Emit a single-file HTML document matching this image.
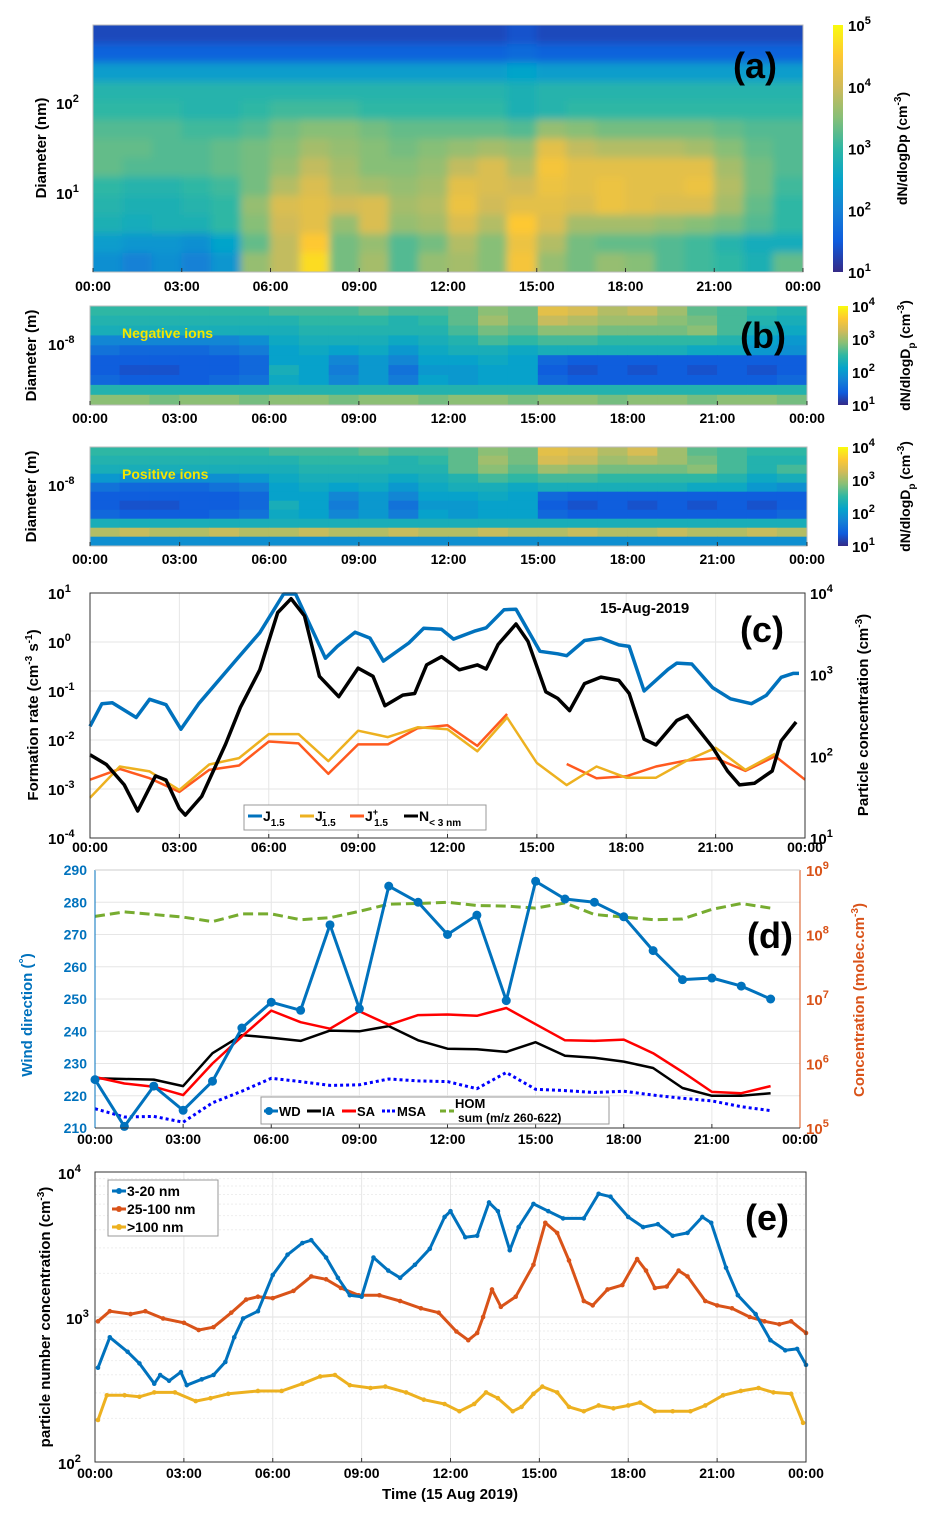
<!DOCTYPE html>
<html><head><meta charset="utf-8"><style>
html,body{margin:0;padding:0;background:#fff;}
svg{display:block;font-family:"Liberation Sans",Arial,sans-serif;font-weight:bold;}
</style></head><body>
<svg id="fig" width="945" height="1520" viewBox="0 0 945 1520">
<defs>
<linearGradient id="parula" x1="0" y1="1" x2="0" y2="0">
<stop offset="0" stop-color="#352a87"/><stop offset="0.125" stop-color="#0f5cdd"/><stop offset="0.25" stop-color="#1481d6"/><stop offset="0.375" stop-color="#06a4ca"/><stop offset="0.5" stop-color="#2eb7a4"/><stop offset="0.625" stop-color="#87bf77"/><stop offset="0.75" stop-color="#d1bb59"/><stop offset="0.875" stop-color="#fec832"/><stop offset="1" stop-color="#f9fb0e"/>
</linearGradient>
<filter id="blur" x="-0.1" y="-0.1" width="1.2" height="1.2"><feGaussianBlur stdDeviation="4"/></filter>
<clipPath id="clipA"><rect x="93" y="25" width="710" height="247"/></clipPath>
</defs>
<g id="root"></g>
</svg>
<script>
// ---------- DATA ----------
const hours = [0,1,2,3,4,5,6,7,8,9,10,11,12,13,14,15,16,17,18,19,20,21,22,23];
const xTickLabels = ["00:00","03:00","06:00","09:00","12:00","15:00","18:00","21:00","00:00"];
// panel a: log10 dN/dlogDp, rows top(large Dp) -> bottom(small Dp), 24 hourly cols
const aRow0 = [1.3,1.3,1.3,1.3,1.3,1.3,1.3,1.3,1.3,1.3,1.3,1.3,1.3,1.3,1.4,1.3,1.3,1.3,1.3,1.3,1.3,1.3,1.3,1.3];
const aRow1 = [1.6,1.6,1.6,1.6,1.6,1.6,1.6,1.6,1.6,1.6,1.6,1.6,1.6,1.6,1.7,1.6,1.6,1.6,1.6,1.6,1.6,1.6,1.6,1.6];
const aRow2 = [2.4,2.4,2.4,2.4,2.4,2.4,2.4,2.4,2.4,2.4,2.4,2.4,2.4,2.4,2.5,2.4,2.4,2.4,2.4,2.4,2.4,2.4,2.4,2.4];
const aRow3 = [2.9,2.9,2.9,2.9,2.9,2.9,2.9,2.9,2.9,2.9,2.9,2.9,2.9,2.9,2.8,2.9,2.9,2.9,2.9,2.9,2.9,2.9,2.9,2.9];
const aRow4 = [3.0,3.0,3.0,2.9,2.9,3.0,3.1,3.1,3.1,3.0,3.0,3.0,3.0,3.0,2.8,2.9,3.0,3.0,3.0,3.0,3.0,3.0,3.0,3.0];
const aRow5 = [3.2,3.2,3.2,3.1,3.1,3.2,3.4,3.5,3.5,3.4,3.3,3.3,3.3,3.3,3.2,3.6,3.5,3.4,3.4,3.4,3.4,3.3,3.2,3.2];
const aRow6 = [3.3,3.3,3.2,3.2,3.3,3.4,3.5,3.7,3.6,3.5,3.4,3.5,3.6,3.7,3.6,4.2,3.9,3.8,3.8,3.8,3.7,3.5,3.3,3.2];
const aRow7 = [3.3,3.2,3.2,3.2,3.3,3.4,3.6,3.9,3.7,3.5,3.5,3.6,3.9,4.1,3.8,4.4,4.2,4.2,4.2,4.2,4.2,3.7,3.4,3.2];
const aRow8 = [3.0,2.9,2.9,3.0,3.1,3.4,3.8,4.1,3.8,3.7,3.6,3.7,4.2,4.1,4.0,4.3,4.2,4.3,4.2,4.2,4.3,3.8,3.4,3.1];
const aRow9 = [2.9,2.8,2.8,2.9,3.0,3.6,4.1,4.2,4.0,4.1,3.7,3.8,4.3,4.0,4.2,4.2,4.1,4.3,4.2,4.1,4.1,3.7,3.3,3.0];
const aRow10 = [2.8,2.7,2.8,2.8,3.0,3.5,4.0,4.2,3.6,4.1,3.6,3.7,4.1,3.8,4.5,4.1,3.7,3.7,3.7,3.6,3.5,3.4,3.2,3.0];
const aRow11 = [2.4,2.3,2.3,2.2,2.5,3.3,3.9,4.5,3.4,3.6,3.2,3.4,3.8,3.5,4.3,3.8,3.4,3.3,3.3,3.2,3.1,2.9,2.7,2.7];
const aRow12 = [2.2,2.0,2.2,2.0,2.3,3.6,3.9,4.7,3.4,3.7,3.2,3.6,3.7,3.5,4.4,3.6,3.4,3.6,3.5,3.2,3.1,3.0,2.8,3.3];
// panel b negative ions (log10), rows top->bottom
const nRow0 = [2.5,2.5,2.5,2.5,2.5,2.5,2.6,2.6,2.6,2.7,2.6,2.6,2.7,2.9,2.8,3.4,3.3,3.1,3.2,3.0,2.7,2.6,2.5,2.4];
const nRow1 = [2.4,2.4,2.4,2.4,2.4,2.4,2.4,2.5,2.5,2.5,2.4,2.5,2.7,3.0,2.8,3.2,3.1,3.0,3.0,2.9,2.8,2.6,2.4,2.3];
const nRow2 = [2.3,2.3,2.3,2.3,2.3,2.3,2.3,2.4,2.4,2.4,2.4,2.4,2.6,2.8,2.7,2.9,2.9,2.8,2.8,2.8,2.9,2.6,2.3,2.2];
const nRow3 = [1.8,1.8,1.8,1.8,1.8,1.9,2.2,2.3,2.3,2.3,2.2,2.3,2.4,2.6,2.5,2.6,2.6,2.5,2.5,2.5,2.5,2.4,2.1,2.0];
const nRow4 = [1.6,1.5,1.5,1.5,1.6,1.7,2.1,2.2,2.1,2.2,2.0,2.2,2.3,2.3,2.2,2.3,2.3,2.3,2.3,2.3,2.2,2.2,2.0,1.9];
const nRow5 = [1.4,1.4,1.4,1.4,1.4,1.5,2.1,2.1,1.8,2.0,1.8,2.1,2.1,2.2,2.1,1.5,1.4,1.4,1.4,1.4,1.4,1.4,1.4,1.4];
const nRow6 = [1.4,1.3,1.3,1.4,1.4,1.5,2.3,2.1,1.7,2.0,1.6,2.0,2.0,2.1,2.1,1.4,1.3,1.4,1.3,1.4,1.3,1.4,1.3,1.4];
const nRow7 = [1.5,1.4,1.4,1.4,1.5,1.6,2.2,2.1,1.8,2.0,1.7,2.1,2.0,2.1,2.1,1.5,1.4,1.4,1.4,1.4,1.4,1.4,1.4,1.5];
const nRow8 = [2.4,2.4,2.4,2.4,2.4,2.4,2.4,2.4,2.4,2.4,2.4,2.4,2.4,2.4,2.4,2.4,2.4,2.4,2.4,2.4,2.4,2.4,2.4,2.4];
const nRow9 = [2.9,2.9,2.8,2.9,2.9,2.8,2.9,2.9,2.8,2.9,2.9,2.8,2.9,2.9,2.8,2.9,2.9,2.8,2.9,2.9,2.8,2.9,2.9,2.8];
// positive ions
const pRow0 = [2.5,2.5,2.5,2.5,2.5,2.5,2.6,2.6,2.6,2.7,2.6,2.6,2.7,2.9,2.8,3.4,3.3,3.1,3.3,3.0,2.7,2.6,2.5,2.5];
const pRow1 = [2.4,2.4,2.4,2.4,2.4,2.4,2.4,2.5,2.5,2.5,2.4,2.5,2.7,3.0,2.8,3.3,3.2,3.0,3.1,3.0,2.8,2.6,2.4,2.4];
const pRow2 = [2.3,2.3,2.3,2.3,2.3,2.3,2.3,2.4,2.4,2.4,2.4,2.4,2.7,2.9,2.7,3.0,2.9,2.8,2.8,2.8,2.9,2.6,2.4,2.6];
const pRow3 = [2.0,1.9,1.9,1.9,1.9,2.0,2.2,2.3,2.3,2.3,2.2,2.3,2.4,2.6,2.5,2.6,2.6,2.5,2.5,2.5,2.5,2.4,2.2,2.3];
const pRow4 = [1.6,1.5,1.5,1.5,1.6,1.7,2.1,2.2,2.1,2.2,2.0,2.2,2.3,2.3,2.2,2.3,2.3,2.3,2.3,2.3,2.2,2.2,2.0,1.9];
const pRow5 = [1.4,1.4,1.4,1.4,1.4,1.5,2.1,2.1,1.8,2.0,1.8,2.1,2.1,2.2,2.1,1.5,1.4,1.4,1.4,1.4,1.4,1.4,1.4,1.4];
const pRow6 = [1.4,1.3,1.3,1.4,1.4,1.5,2.3,2.1,1.7,2.0,1.6,2.0,2.0,2.1,2.1,1.4,1.3,1.4,1.3,1.4,1.3,1.4,1.3,1.4];
const pRow7 = [1.5,1.4,1.4,1.4,1.5,1.6,2.2,2.1,1.8,2.0,1.7,2.1,2.0,2.1,2.1,1.5,1.4,1.4,1.4,1.4,1.4,1.4,1.4,1.5];
const pRow8 = [2.3,2.3,2.3,2.3,2.3,2.3,2.3,2.3,2.3,2.3,2.3,2.3,2.3,2.3,2.3,2.3,2.3,2.3,2.3,2.3,2.3,2.3,2.3,2.3];
const pRow9 = [3.1,3.2,3.1,3.1,3.2,3.1,3.1,3.2,3.1,3.1,3.2,3.1,3.1,3.2,3.1,3.1,3.2,3.1,3.1,3.2,3.1,3.1,3.2,3.1];
const pRow10 = [1.9,1.9,1.9,1.9,1.9,1.9,1.9,1.9,1.9,1.9,1.9,1.9,1.9,1.9,1.9,1.9,1.9,1.9,1.9,1.9,1.9,1.9,1.9,1.9];
// panel c
const jTotHours = [0,0.4,0.75,1.55,2.0,2.55,3.05,3.65,4.9,5.7,6.5,6.9,7.9,8.3,8.9,9.4,9.85,10.7,11.2,11.8,12.2,12.9,13.3,13.9,14.3,15.1,15.7,16.0,16.6,17.15,17.75,18.1,18.6,19.4,19.7,20.2,20.9,21.5,22.2,22.7,23.2,23.6,23.8];
const jTotLog = [-1.72,-1.26,-1.24,-1.54,-1.17,-1.28,-1.78,-1.26,-0.37,0.19,0.98,0.98,-0.33,-0.09,0.2,0.08,-0.39,-0.02,0.28,0.26,0.06,0.22,0.29,0.66,0.67,-0.19,-0.24,-0.28,0.03,0.08,-0.06,-0.09,-1.0,-0.56,-0.43,-0.45,-0.93,-1.16,-1.26,-1.09,-0.72,-0.64,-0.64];
const nSubHours = [0,0.55,1.15,1.6,2.2,2.55,3.0,3.2,3.75,4.55,5.05,5.7,6.3,6.75,7.2,7.7,8.35,9.0,9.5,9.9,10.5,10.9,11.3,11.8,12.4,13.0,13.3,13.7,14.3,14.7,15.3,15.7,16.1,16.6,17.15,17.75,18.1,18.6,19.0,19.7,20.05,20.9,21.4,21.8,22.3,22.9,23.2,23.7];
const nSubLog = [2.02,1.9,1.65,1.33,1.76,1.71,1.36,1.28,1.51,2.15,2.6,3.06,3.76,3.93,3.72,2.98,2.73,3.08,2.98,2.62,2.75,2.77,3.12,3.22,3.06,3.12,3.07,3.37,3.62,3.41,2.79,2.71,2.56,2.89,2.97,2.93,2.77,2.21,2.14,2.44,2.5,2.11,1.82,1.65,1.67,1.82,2.19,2.42];
const jNegLog = [-3.18,-2.54,-2.64,-3.02,-2.5,-2.37,-1.88,-1.88,-2.43,-1.81,-1.94,-1.74,-1.78,-2.23,-1.54,-2.47,-2.92,-2.54,-2.77,-2.77,-2.43,-2.16,-2.61,-2.28];
const jPosHours = [0,1,2,3,4,5,6,7,8,9,10,11,12,13,14,16,17,18,19,20,21,22,23,24];
const jPosLog = [-2.81,-2.59,-2.78,-3.06,-2.61,-2.52,-2.03,-2.07,-2.69,-2.09,-2.09,-1.76,-1.7,-2.12,-1.47,-2.49,-2.78,-2.74,-2.54,-2.42,-2.37,-2.63,-2.33,-2.81];
// panel d
const windDir = [225,210.5,223,215.5,224.5,241,249,246.5,273,247,285,280,270,276,249.5,286.5,281,280,275.5,265,256,256.5,254,250];
const iaLog = [5.77,5.76,5.75,5.65,6.16,6.44,6.4,6.35,6.51,6.5,6.58,6.36,6.23,6.22,6.18,6.33,6.12,6.09,6.03,5.93,5.62,5.5,5.5,5.54];
const saLog = [5.79,5.69,5.64,5.51,6.0,6.42,6.82,6.64,6.54,6.81,6.6,6.75,6.76,6.74,6.86,6.61,6.36,6.35,6.37,6.16,5.87,5.56,5.54,5.65];
const msaLog = [5.3,5.17,5.18,5.09,5.39,5.57,5.77,5.72,5.66,5.67,5.76,5.73,5.72,5.61,5.86,5.6,5.58,5.55,5.57,5.51,5.46,5.42,5.33,5.27];
const homLog = [8.28,8.35,8.31,8.27,8.2,8.32,8.32,8.23,8.26,8.36,8.47,8.48,8.5,8.45,8.44,8.41,8.49,8.31,8.27,8.23,8.24,8.39,8.48,8.41];
const wdTicks = [210,220,230,240,250,260,270,280,290];
// panel e
const smallHours = [0.1,0.5,1.1,1.5,2.0,2.2,2.5,2.9,3.1,3.6,4.0,4.4,4.7,5.0,5.5,6.0,6.5,7.0,7.3,7.8,8.2,8.6,9.0,9.4,9.9,10.3,10.8,11.3,11.8,12.0,12.5,12.9,13.3,13.6,14.0,14.3,14.8,15.3,15.8,16.5,17.0,17.4,18.0,18.5,19.0,19.5,20.0,20.5,20.8,21.3,21.7,22.3,22.8,23.3,23.7,24];
const smallLog = [2.65,2.86,2.76,2.68,2.54,2.6,2.56,2.62,2.53,2.57,2.6,2.69,2.86,2.99,3.04,3.29,3.43,3.51,3.53,3.41,3.27,3.15,3.14,3.41,3.32,3.27,3.36,3.47,3.69,3.73,3.55,3.56,3.79,3.73,3.46,3.62,3.78,3.73,3.68,3.68,3.85,3.83,3.69,3.62,3.64,3.56,3.58,3.69,3.65,3.34,3.15,3.02,2.84,2.77,2.78,2.67];
const midHours = [0.1,0.5,1.2,1.7,2.3,3.0,3.5,4.0,4.6,5.1,5.5,6.0,6.7,7.3,7.8,8.3,8.9,9.6,10.3,11.0,11.6,12.2,12.6,12.9,13.1,13.4,13.7,14.2,14.8,15.2,15.6,16.0,16.5,16.8,17.3,17.8,18.3,18.6,18.9,19.3,19.7,20.0,20.6,21.0,21.5,22.1,22.6,23.1,23.5,24];
const midLog = [2.97,3.04,3.02,3.04,2.99,2.96,2.91,2.93,3.03,3.12,3.14,3.13,3.18,3.28,3.26,3.2,3.15,3.15,3.11,3.06,3.03,2.9,2.84,2.89,3.0,3.19,3.07,3.14,3.36,3.65,3.58,3.39,3.11,3.08,3.19,3.22,3.4,3.32,3.2,3.21,3.32,3.28,3.11,3.08,3.06,3.0,2.97,2.95,2.97,2.89];
const bigHours = [0.1,0.4,1.0,1.5,2.0,2.7,3.4,3.9,4.5,5.5,6.3,7.0,7.6,8.1,8.6,9.3,9.8,10.5,11.1,11.8,12.3,12.8,13.2,13.6,14.1,14.4,14.8,15.1,15.6,16.0,16.5,17.0,17.5,18.0,18.4,18.9,19.5,20.1,20.6,21.2,21.8,22.4,22.9,23.5,23.9];
const bigLog = [2.29,2.46,2.46,2.45,2.48,2.48,2.42,2.44,2.47,2.49,2.49,2.54,2.59,2.6,2.53,2.51,2.52,2.48,2.43,2.4,2.35,2.4,2.48,2.44,2.35,2.38,2.47,2.52,2.48,2.38,2.35,2.39,2.37,2.39,2.41,2.35,2.35,2.35,2.39,2.46,2.49,2.51,2.48,2.47,2.27];

// ---------- HELPERS ----------
const NS="http://www.w3.org/2000/svg";
const root=document.getElementById('root');
function mk(tag,attrs,parent){const e=document.createElementNS(NS,tag);for(const k in attrs)e.setAttribute(k,attrs[k]);(parent||root).appendChild(e);return e;}
const stops=[[53,42,135],[15,92,221],[20,129,214],[6,164,202],[46,183,164],[135,191,119],[209,187,89],[254,200,50],[249,251,14]];
function parula(t){t=Math.max(0,Math.min(1,t));const p=t*8,i=Math.min(7,Math.floor(p)),f=p-i;const a=stops[i],b=stops[i+1];return `rgb(${a.map((v,k)=>Math.round(v+(b[k]-v)*f)).join(',')})`;}
function xScale(x0,x1){return h=>x0+(x1-x0)*h/24;}
function linScale(v0,v1,y0,y1){return v=>y0+(y1-y0)*(v-v0)/(v1-v0);}
function txt(x,y,s,opts,parent){const t=mk('text',Object.assign({x:x,y:y,'font-size':14},opts||{}),parent);t.textContent=s;return t;}
function pow10(x,y,exp,opts,parent){const t=mk('text',Object.assign({x:x,y:y,'font-size':15},opts||{}),parent);const a=mk('tspan',{},t);a.textContent='10';const b=mk('tspan',{dy:-7,'font-size':11},t);b.textContent=String(exp);return t;}
function xTicks(g,x0,x1,yb,ylab,grid,yt){const sx=xScale(x0,x1);xTickLabels.forEach((l,i)=>{const x=sx(i*3);if(grid)mk('line',{x1:x,y1:yt,x2:x,y2:yb,stroke:'#e6e6e6','stroke-width':1},g);mk('line',{x1:x,y1:yb,x2:x,y2:yb-4,stroke:'#333'},g);const t=txt(x,ylab,l,{'text-anchor':'middle','font-size':14},g);});}
function heat(g,rows,x0,x1,y0,y1,vmin,vmax,pad){pad=pad||0;const rh=(y1-y0)/rows.length;const cw=(x1-x0)/24;const nr=rows.length;rows.forEach((r,ri)=>r.forEach((v,ci)=>{let x=x0+ci*cw-0.3,w=cw+0.6,y=y0+ri*rh-0.3,h=rh+0.6;if(ci===0){x-=pad;w+=pad;}if(ci===23)w+=pad;if(ri===0){y-=pad;h+=pad;}if(ri===nr-1)h+=pad;const c=mk('rect',{x:x,y:y,width:w,height:h,fill:parula((v-vmin)/(vmax-vmin))},g);}));}
function path(g,xs,ys,sx,sy,style){let d='';xs.forEach((h,i)=>{if(ys[i]==null)return;d+=(d?'L':'M')+sx(h).toFixed(1)+','+sy(ys[i]).toFixed(1);});return mk('path',Object.assign({d:d,fill:'none','stroke-linejoin':'round'},style),g);}
function colorbar(g,x,y0,w,y1,emin,emax,lx,title,tx,sub){mk('rect',{x:x,y:y0,width:w,height:y1-y0,fill:'url(#parula)'},g);const sy=linScale(emin,emax,y1,y0);for(let e=emin;e<=emax;e++){const t=pow10(lx,sy(e)+6,e,{},g);}
 const t=mk('text',{x:0,y:0,'font-size':14,'text-anchor':'middle',transform:`translate(${tx},${(y0+y1)/2}) rotate(-90)`},g);const a=mk('tspan',{},t);a.textContent=sub?'dN/dlogD':title;if(sub){const s=mk('tspan',{dy:5,'font-size':10},t);s.textContent='p';const s2=mk('tspan',{dy:-5},t);s2.textContent=' (cm';}else{const s2=mk('tspan',{},t);s2.textContent=' (cm';}const sp=mk('tspan',{dy:-6,'font-size':10},t);sp.textContent='-3';const cl=mk('tspan',{dy:6},t);cl.textContent=')';}
function rotLabel(g,x,y,parts,opts){const t=mk('text',Object.assign({x:0,y:0,'font-size':15,'text-anchor':'middle',transform:`translate(${x},${y}) rotate(-90)`},opts||{}),g);parts.forEach(p=>{const s=mk('tspan',p[1]?{dy:p[1],'font-size':p[2]||15}:{},t);s.textContent=p[0];});return t;}
function panelLabel(x,y,s,size){const t=txt(x,y,s,{'font-size':size||36,'font-family':'"Liberation Sans Narrow","Liberation Sans",sans-serif','font-weight':'bold'});}

// ---------- PANEL A ----------
(function(){
 const g=mk('g',{});
 const hg=mk('g',{'clip-path':'url(#clipA)'},g);const hb=mk('g',{filter:'url(#blur)'},hg);
 heat(hb,[aRow0,aRow1,aRow2,aRow3,aRow4,aRow5,aRow6,aRow7,aRow8,aRow9,aRow10,aRow11,aRow12],93,803,25,272,1,5,12);
 mk('rect',{x:93,y:25,width:710,height:247,fill:'none',stroke:'#bbb'},g);
 xTicks(g,93,803,272,291,false);
 const sy=linScale(1,2,193,103);[1,2].forEach(e=>{const t=pow10(56,sy(e)+6,e,{},g);});
 const yt=rotLabel(g,46,148,[['Diameter (nm)']]);
 colorbar(g,833,25,10,272,1,5,848,'dN/dlogDp',907,false);
 panelLabel(733,78,'(a)');
})();
// ---------- PANEL B ----------
function ionPanel(rows,y0,y1,label,nm){
 const g=mk('g',{});
 heat(g,rows,90,807,y0,y1,1,4);
 mk('rect',{x:90,y:y0,width:717,height:y1-y0,fill:'none',stroke:'#bbb'},g);
 xTicks(g,90,807,y1,y1+18,false);
 const t=pow10(48,y0+44,-8,{},g);
 const yt=rotLabel(g,36,(y0+y1)/2,[['Diameter (m)']]);
 const l=txt(122,y0+32,label,{fill:'#f5e600','font-size':14});
 colorbar(g,838,y0,10,y1,1,4,852,'',910,true);
}
ionPanel([nRow0,nRow1,nRow2,nRow3,nRow4,nRow5,nRow6,nRow7,nRow8,nRow9],306,405,'Negative ions','panel-b-negative-ions');
ionPanel([pRow0,pRow1,pRow2,pRow3,pRow4,pRow5,pRow6,pRow7,pRow8,pRow9,pRow10],447,546,'Positive ions','panel-b-positive-ions');
panelLabel(740,348,'(b)');
// ---------- PANEL C ----------
(function(){
 const x0=90,x1=805,y0=593,y1=838;const g=mk('g',{});
 mk('rect',{x:x0,y:y0,width:x1-x0,height:y1-y0,fill:'#fff'},g);
 const sx=xScale(x0,x1),syL=linScale(-4,1,y1,y0),syR=linScale(1,4,y1,y0);
 for(let e=-4;e<=1;e++){mk('line',{x1:x0,x2:x1,y1:syL(e),y2:syL(e),stroke:'#e6e6e6'},g);}
 xTicks(g,x0,x1,y1,852,true,y0);
 for(let e=-4;e<=1;e++){const t=pow10(48,syL(e)+6,e,{},g);}
 for(let e=1;e<=4;e++){const t=pow10(810,syR(e)+6,e,{},g);}
 let p=path(g,jPosHours.slice(0,15),jPosLog.slice(0,15),sx,syL,{stroke:'#FF5A1F','stroke-width':2.5});
 p=path(g,jPosHours.slice(15),jPosLog.slice(15),sx,syL,{stroke:'#FF5A1F','stroke-width':2.5});
 p=path(g,hours,jNegLog,sx,syL,{stroke:'#EDB120','stroke-width':2.5});
 p=path(g,jTotHours,jTotLog,sx,syL,{stroke:'#0072BD','stroke-width':3.5});
 p=path(g,nSubHours,nSubLog,sx,syR,{stroke:'#000','stroke-width':3.5});
 mk('rect',{x:x0,y:y0,width:x1-x0,height:y1-y0,fill:'none',stroke:'#333'},g);
 const yt=rotLabel(g,38,715,[['Formation rate (cm'],['-3',-6,10],[' s',6],['-1',-6,10],[')',6]]);
 const yr=rotLabel(g,868,715,[['Particle concentration (cm'],['-3',-6,10],[')',6]]);
 const dt=txt(600,613,'15-Aug-2019',{'font-size':15});
 const lg=mk('g',{},g);
 mk('rect',{x:244,y:805,width:242,height:25,fill:'#fff',stroke:'#999'},lg);
 const items=[['#0072BD','J','','1.5',248],['#EDB120','J','-','1.5',300],['#FF5A1F','J','+','1.5',350],['#000','N','','< 3 nm',404]];
 items.forEach(it=>{const e=mk('g',{},lg);mk('line',{x1:it[4],x2:it[4]+14,y1:816,y2:816,stroke:it[0],'stroke-width':3},e);const t=mk('text',{x:it[4]+15,y:821,'font-size':14},e);const a=mk('tspan',{},t);a.textContent=it[1];if(it[2]){const s=mk('tspan',{dy:-6,'font-size':9},t);s.textContent=it[2];const b=mk('tspan',{dx:-4,dy:11,'font-size':10},t);b.textContent=it[3];}else{const b=mk('tspan',{dy:5,'font-size':10},t);b.textContent=it[3];}});
 panelLabel(740,642,'(c)');
})();
// ---------- PANEL D ----------
(function(){
 const x0=95,x1=800,y0=870,y1=1128;const g=mk('g',{});
 const sx=xScale(x0,x1),syL=linScale(210,290,y1,y0),syR=linScale(5,9,y1,y0);
 wdTicks.forEach(v=>{mk('line',{x1:x0,x2:x1,y1:syL(v),y2:syL(v),stroke:'#e6e6e6'},g);const t=txt(87,syL(v)+5,String(v),{'text-anchor':'end',fill:'#0072BD','font-size':14},g);});
 xTicks(g,x0,x1,y1,1144,true,y0);
 for(let e=5;e<=9;e++){const t=pow10(806,syR(e)+6,e,{fill:'#D95319'},g);}
 let p=path(g,hours,homLog,sx,syR,{stroke:'#77AC30','stroke-width':3,'stroke-dasharray':'10,5'});
 p=path(g,hours,msaLog,sx,syR,{stroke:'#0000FF','stroke-width':3,'stroke-dasharray':'3,3'});
 p=path(g,hours,iaLog,sx,syR,{stroke:'#000','stroke-width':2.5});
 p=path(g,hours,saLog,sx,syR,{stroke:'#FF0000','stroke-width':2.5});
 p=path(g,hours,windDir,sx,syL,{stroke:'#0072BD','stroke-width':3});
 hours.forEach((h,i)=>{const c=mk('circle',{cx:sx(h),cy:syL(windDir[i]),r:4.5,fill:'#0072BD'},g);});
 mk('line',{x1:x0,x2:x0,y1:y0,y2:y1,stroke:'#0072BD'},g);mk('line',{x1:x1,x2:x1,y1:y0,y2:y1,stroke:'#D95319'},g);
 mk('line',{x1:x0,x2:x1,y1:y1,y2:y1,stroke:'#333'},g);mk('line',{x1:x0,x2:x1,y1:y0,y2:y0,stroke:'#ccc'},g);
 const yt=rotLabel(g,32,1015,[['Wind direction ('],['°',-4,13],[')',4]],{fill:'#0072BD'});
 const yr=rotLabel(g,864,1000,[['Concentration (molec.cm'],['-3',-6,10],[')',6]],{fill:'#D95319'});
 const lg=mk('g',{},g);
 mk('rect',{x:261,y:1097,width:348,height:27,fill:'#fff',stroke:'#999'},lg);
 const it=[['#0072BD','WD',264,''],['#000','IA',307,''],['#FF0000','SA',342,''],['#0000FF','MSA',382,'3,2'],['#77AC30','HOM',440,'6,3']];
 it.forEach(e=>{const q=mk('g',{},lg);mk('line',{x1:e[2],x2:e[2]+14,y1:1111,y2:1111,stroke:e[0],'stroke-width':3,'stroke-dasharray':e[3]||'none'},q);if(e[1]==='WD')mk('circle',{cx:e[2]+5,cy:1111,r:4,fill:e[0]},q);txt(e[2]+15,e[1]==='HOM'?1108:1116,e[1],{'font-size':13},q);});
 txt(458,1122,'sum (m/z 260-622)',{'font-size':12},lg);
 panelLabel(747,948,'(d)');
})();
// ---------- PANEL E ----------
(function(){
 const x0=95,x1=806,y0=1172,y1=1462;const g=mk('g',{});
 const sx=xScale(x0,x1),sy=linScale(2,4,y1,y0);
 for(let d=2;d<4;d++){for(let m=2;m<=9;m++){const y=sy(d+Math.log10(m));mk('line',{x1:x0,x2:x1,y1:y,y2:y,stroke:'#eeeeee','stroke-dasharray':'2,2'},g);}}
 mk('line',{x1:x0,x2:x1,y1:sy(3),y2:sy(3),stroke:'#e0e0e0'},g);
 xTicks(g,x0,x1,y1,1478,true,y0);
 [2,3,4].forEach(e=>{const t=pow10(e===3?66:58,sy(e)+7,e,{},g);});
 const ser=[[bigHours,bigLog,'#EDB120','line-gt100nm'],[midHours,midLog,'#D95319','line-25-100nm'],[smallHours,smallLog,'#0072BD','line-3-20nm']];
 ser.forEach(s=>{const p=path(g,s[0],s[1],sx,sy,{stroke:s[2],'stroke-width':3});
  s[0].forEach((h,i)=>{const c=mk('circle',{cx:sx(h),cy:sy(s[1][i]),r:2.3,fill:s[2]},g);});});
 mk('rect',{x:x0,y:y0,width:x1-x0,height:y1-y0,fill:'none',stroke:'#333'},g);
 const yt=rotLabel(g,50,1317,[['particle number concentration (cm'],['-3',-6,10],[')',6]]);
 const xt=txt(450,1499,'Time (15 Aug 2019)',{'text-anchor':'middle','font-size':15});
 const lg=mk('g',{},g);
 mk('rect',{x:108,y:1180,width:110,height:56,fill:'#fff',stroke:'#999'},lg);
 [['#0072BD','3-20 nm',1191],['#D95319','25-100 nm',1209],['#EDB120','>100 nm',1227]].forEach(e=>{const q=mk('g',{},lg);mk('line',{x1:112,x2:126,y1:e[2],y2:e[2],stroke:e[0],'stroke-width':3},q);mk('circle',{cx:119,cy:e[2],r:3,fill:e[0]},q);txt(127,e[2]+5,e[1],{'font-size':14},q);});
 panelLabel(745,1230,'(e)');
})();
</script>
</body></html>
